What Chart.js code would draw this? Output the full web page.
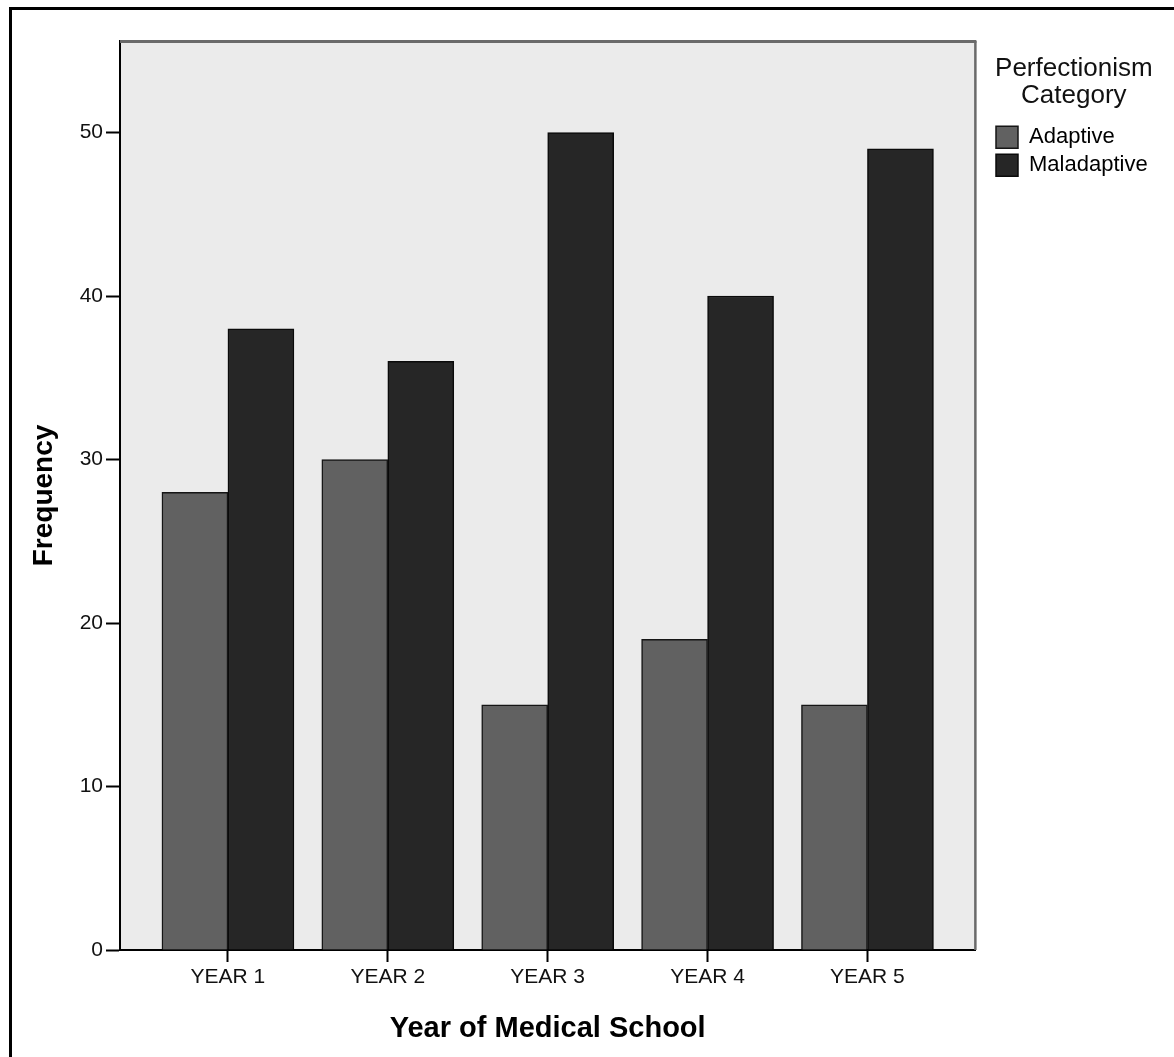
<!DOCTYPE html>
<html>
<head>
<meta charset="utf-8">
<script src="https://cdn.jsdelivr.net/npm/chart.js@4.4.1/dist/chart.umd.min.js"></script>
<style>
  html, body { margin: 0; padding: 0; background: #ffffff; }
  #wrap { width: 1174px; height: 1057px; position: relative; }
</style>
</head>
<body>
<div id="wrap"><canvas id="c" width="1174" height="1057"></canvas></div>
<script>
// ---- data ----
const categories = ['YEAR 1', 'YEAR 2', 'YEAR 3', 'YEAR 4', 'YEAR 5'];
const adaptive = [28, 30, 15, 19, 15];
const maladaptive = [38, 36, 50, 40, 49];
const yTicks = [0, 10, 20, 30, 40, 50];
const seriesNames = ['Adaptive', 'Maladaptive'];
const legendTitle = ['Perfectionism', 'Category'];
const xTitle = 'Year of Medical School';
const yTitle = 'Frequency';

const toPoints = arr => arr.map((v, i) => ({ x: i, y: v }));

const FONT = "'Liberation Sans', Arial, sans-serif";

const decor = {
  id: 'decor',
  beforeDraw(chart) {
    const { ctx, chartArea: a } = chart;
    ctx.save();
    ctx.fillStyle = '#ebebeb';
    ctx.fillRect(a.left, a.top, a.right - a.left, a.bottom - a.top);
    ctx.restore();
  },
  afterLayout(chart) {
    const l = chart.legend;
    if (l) {
      const dx = 990 - l.left;
      l.left += dx; l.right += dx;
    }
  },
  afterDraw(chart) {
    const { ctx, chartArea: a } = chart;
    ctx.save();
    ctx.strokeStyle = '#6a6a6a';
    ctx.lineWidth = 3;
    ctx.beginPath();
    ctx.moveTo(a.left, a.top + 0.5);
    ctx.lineTo(a.right + 1, a.top + 0.5);
    ctx.stroke();
    ctx.lineWidth = 2.5;
    ctx.beginPath();
    ctx.moveTo(a.right, a.top);
    ctx.lineTo(a.right, a.bottom);
    ctx.stroke();
    // outer frame (top & left)
    ctx.fillStyle = '#000';
    ctx.fillRect(9, 7, 1165, 3);
    ctx.fillRect(9, 7, 3, 1050);
    ctx.restore();
  }
};

new Chart(document.getElementById('c'), {
  type: 'bar',
  data: {
    datasets: [
      {
        label: seriesNames[0],
        data: toPoints(adaptive),
        backgroundColor: '#616161',
        borderColor: '#151515',
        borderWidth: 1.5,
        barThickness: 66
      },
      {
        label: seriesNames[1],
        data: toPoints(maladaptive),
        backgroundColor: '#262626',
        borderColor: '#0a0a0a',
        borderWidth: 1.5,
        barThickness: 66
      }
    ]
  },
  options: {
    responsive: false,
    animation: false,
    devicePixelRatio: 1,
    layout: { padding: { top: 41, left: 12, bottom: 0, right: 31 } },
    plugins: {
      tooltip: { enabled: false },
      legend: {
        display: true,
        position: 'right',
        align: 'start',
        title: {
          display: true,
          text: legendTitle,
          color: '#111',
          position: 'center',
          font: { family: FONT, size: 26, lineHeight: 1.05 },
          padding: { top: 15, bottom: 37 }
        },
        labels: {
          color: '#000',
          boxWidth: 22,
          boxHeight: 22,
          padding: 6,
          font: { family: FONT, size: 22 }
        }
      }
    },
    scales: {
      x: {
        type: 'linear',
        min: -0.675,
        max: 4.675,
        offset: false,
        afterFit(scale) { scale.height = 107; },
        afterBuildTicks(scale) { scale.ticks = categories.map((_, i) => ({ value: i })); },
        ticks: {
          autoSkip: false,
          maxRotation: 0,
          padding: 3,
          color: '#111',
          font: { family: FONT, size: 21 },
          callback: v => categories[v] !== undefined ? categories[v] : ''
        },
        grid: {
          display: true,
          offset: false,
          drawOnChartArea: false,
          drawTicks: true,
          tickLength: 12,
          tickColor: '#000',
          tickWidth: 2
        },
        border: { display: true, color: '#000', width: 2 },
        title: {
          display: true,
          text: xTitle,
          color: '#000',
          font: { family: FONT, size: 29, weight: 'bold', lineHeight: 1.2 },
          padding: { top: 0, bottom: 11 }
        }
      },
      y: {
        min: 0,
        max: 55.6,
        afterFit(scale) { scale.width = 108; },
        afterBuildTicks(scale) { scale.ticks = yTicks.map(v => ({ value: v })); },
        ticks: {
          padding: 3,
          color: '#111',
          font: { family: FONT, size: 21 }
        },
        grid: {
          display: true,
          drawOnChartArea: false,
          drawTicks: true,
          tickLength: 14,
          tickColor: '#000',
          tickWidth: 2
        },
        border: { display: true, color: '#000', width: 2 },
        title: {
          display: true,
          text: yTitle,
          color: '#000',
          font: { family: FONT, size: 28, weight: 'bold', lineHeight: 1.2 },
          padding: { top: 15, bottom: 0 }
        }
      }
    }
  },
  plugins: [decor]
});
</script>
</body>
</html>
